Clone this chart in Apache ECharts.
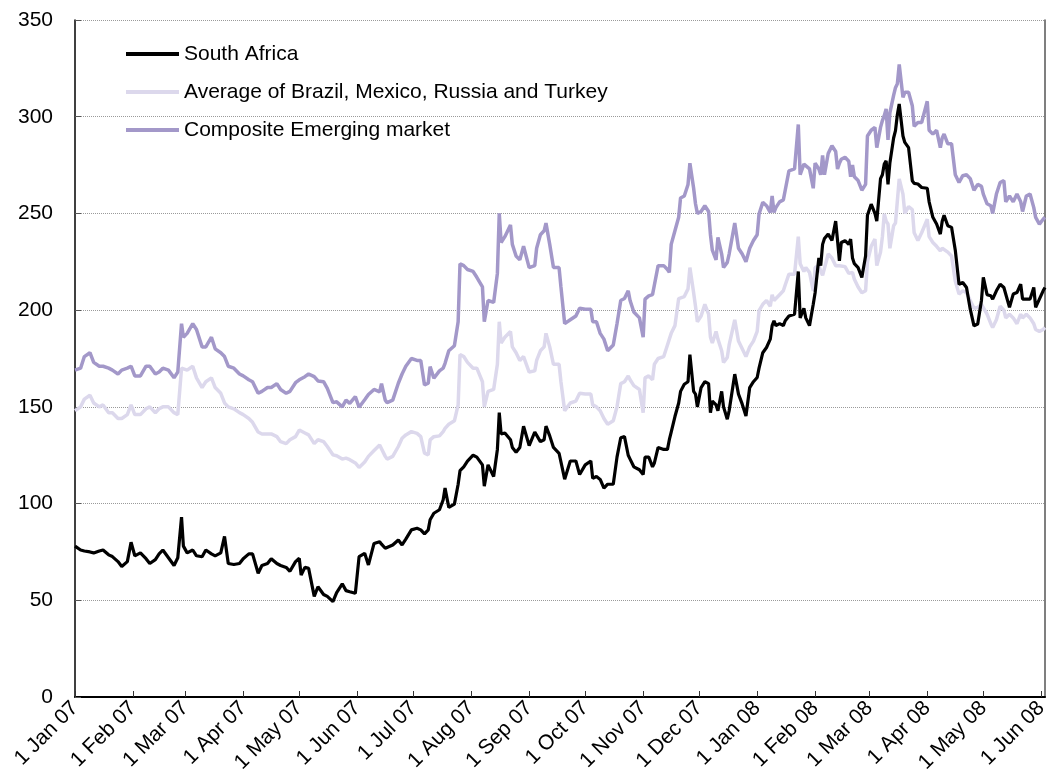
<!DOCTYPE html>
<html>
<head>
<meta charset="utf-8">
<title>South Africa vs emerging markets</title>
<script src="https://cdn.jsdelivr.net/npm/echarts@6/dist/echarts.min.js"></script>
<style>
  html, body { margin: 0; padding: 0; background: #fff; }
  #chart { width: 1050px; height: 774px; }
</style>
</head>
<body>
<div id="chart"></div>
<script>
// observation dates, shared by the three lines
var dates = [
  '2007-01-01','2007-01-04','2007-01-06','2007-01-09','2007-01-11','2007-01-14','2007-01-16','2007-01-19','2007-01-21','2007-01-24',
  '2007-01-26','2007-01-29','2007-01-31','2007-02-02','2007-02-05','2007-02-08','2007-02-10','2007-02-13','2007-02-15','2007-02-17',
  '2007-02-20','2007-02-23','2007-02-25','2007-02-27','2007-02-28','2007-03-02','2007-03-05','2007-03-07','2007-03-10','2007-03-12',
  '2007-03-15','2007-03-17','2007-03-20','2007-03-22','2007-03-24','2007-03-27','2007-03-30','2007-04-01','2007-04-04','2007-04-06',
  '2007-04-09','2007-04-11','2007-04-14','2007-04-16','2007-04-19','2007-04-21','2007-04-24','2007-04-26','2007-04-29','2007-05-01',
  '2007-05-02','2007-05-04','2007-05-06','2007-05-09','2007-05-11','2007-05-14','2007-05-16','2007-05-19','2007-05-21','2007-05-24',
  '2007-05-26','2007-05-28','2007-05-31','2007-06-02','2007-06-05','2007-06-07','2007-06-10','2007-06-13','2007-06-14','2007-06-16',
  '2007-06-17','2007-06-20','2007-06-23','2007-06-25','2007-06-27','2007-06-30','2007-07-03','2007-07-05','2007-07-07','2007-07-09',
  '2007-07-10','2007-07-12','2007-07-15','2007-07-17','2007-07-18','2007-07-20','2007-07-23','2007-07-25','2007-07-26','2007-07-28',
  '2007-07-30','2007-08-02','2007-08-04','2007-08-07','2007-08-08','2007-08-10','2007-08-13','2007-08-15','2007-08-16','2007-08-17',
  '2007-08-19','2007-08-22','2007-08-23','2007-08-25','2007-08-27','2007-08-29','2007-09-01','2007-09-04','2007-09-05','2007-09-07',
  '2007-09-09','2007-09-10','2007-09-12','2007-09-14','2007-09-17','2007-09-18','2007-09-20','2007-09-23','2007-09-26','2007-09-28',
  '2007-10-01','2007-10-04','2007-10-05','2007-10-07','2007-10-09','2007-10-11','2007-10-13','2007-10-16','2007-10-18','2007-10-20',
  '2007-10-22','2007-10-24','2007-10-25','2007-10-27','2007-10-30','2007-11-01','2007-11-02','2007-11-04','2007-11-06','2007-11-07',
  '2007-11-09','2007-11-12','2007-11-14','2007-11-15','2007-11-16','2007-11-18','2007-11-20','2007-11-21','2007-11-23','2007-11-25',
  '2007-11-26','2007-11-28','2007-11-29','2007-11-30','2007-12-02','2007-12-04','2007-12-06','2007-12-07','2007-12-08','2007-12-10',
  '2007-12-11','2007-12-13','2007-12-14','2007-12-16','2007-12-17','2007-12-20','2007-12-22','2007-12-24','2007-12-26','2007-12-28',
  '2007-12-30','2008-01-01','2008-01-02','2008-01-04','2008-01-06','2008-01-08','2008-01-09','2008-01-10','2008-01-11','2008-01-13',
  '2008-01-15','2008-01-16','2008-01-18','2008-01-19','2008-01-21','2008-01-23','2008-01-24','2008-01-26','2008-01-27','2008-01-29',
  '2008-01-31','2008-02-01','2008-02-03','2008-02-04','2008-02-05','2008-02-06','2008-02-08','2008-02-09','2008-02-10','2008-02-12',
  '2008-02-13','2008-02-14','2008-02-15','2008-02-17','2008-02-19','2008-02-20','2008-02-21','2008-02-22','2008-02-24','2008-02-26',
  '2008-02-28','2008-02-29','2008-03-02','2008-03-04','2008-03-05','2008-03-07','2008-03-08','2008-03-09','2008-03-10','2008-03-11',
  '2008-03-12','2008-03-14','2008-03-15','2008-03-16','2008-03-17','2008-03-19','2008-03-20','2008-03-22','2008-03-24','2008-03-25',
  '2008-03-27','2008-03-29','2008-04-01','2008-04-02','2008-04-04','2008-04-06','2008-04-08','2008-04-09','2008-04-10','2008-04-12',
  '2008-04-14','2008-04-16','2008-04-18','2008-04-20','2008-04-22','2008-04-24','2008-04-26','2008-04-28','2008-04-30','2008-05-01',
  '2008-05-03','2008-05-05','2008-05-06','2008-05-08','2008-05-10','2008-05-12','2008-05-13','2008-05-15','2008-05-17','2008-05-19',
  '2008-05-21','2008-05-22','2008-05-24','2008-05-26','2008-05-28','2008-05-29','2008-05-31','2008-06-02','2008-06-03'
];

var southAfrica = [
  78, 76, 75.5, 75, 74.5, 75.5, 76, 73.5, 72.6, 70,
  67.5, 70, 80, 73, 74.5, 71.5, 69, 71, 74, 76,
  72, 68, 72, 93, 78, 74.5, 76, 73, 72.5, 76,
  74, 73, 74.5, 83, 69, 68.5, 69, 71.5, 74, 74,
  64, 68, 69, 71.5, 69, 68, 67, 65, 70, 71.7,
  63, 67, 66.5, 52, 57, 53, 52, 49.3, 54, 58.5,
  55, 54.4, 53.6, 72.6, 74.3, 68.3, 79.4, 80.3, 79, 76.9,
  77.7, 78.6, 81.2, 78.6, 81.6, 86.4, 87.2, 86.4, 84.3, 86.4,
  91.6, 95, 96.8, 102, 108, 98, 99.7, 110, 117, 119,
  122, 125, 124, 120, 109, 120, 114, 128, 147, 136,
  136.5, 133, 129, 126.5, 129, 140, 130, 137, 137.6, 132,
  133, 140, 135, 129, 126, 127, 112.6, 122, 122, 115,
  120, 122, 113, 114, 112.5, 108, 110, 110, 124, 134,
  134.6, 125, 123, 119, 117.5, 115, 124, 124, 119, 121,
  129, 128, 128, 133, 137, 145, 152, 158, 161.7, 163,
  177, 158, 156.6, 150, 160, 163, 162, 147, 153, 151,
  148, 158, 150, 143.6, 148, 166.9, 156.6, 151.4, 145.3, 160,
  163, 165.2, 170, 178, 180.7, 185, 192, 194.5, 192, 193,
  192, 194.5, 197, 197.9, 197.9, 220, 196, 201, 196, 192,
  203, 209, 227, 223, 234, 237, 239.3, 240, 236, 246,
  236, 225.5, 235, 235.9, 234, 236.7, 227, 224, 222, 216.9,
  228, 249, 254.8, 250, 246, 268, 270, 275.5, 277.2, 265,
  276, 289, 292.8, 301, 306.6, 290, 286.7, 284, 266.9, 265.5,
  265.2, 263.4, 263, 256, 248, 244.5, 239.3, 246, 249, 243.6,
  242.8, 231, 213.4, 214.3, 211.7, 200.5, 191.9, 192.8, 205, 216.9,
  208, 207.4, 205.7, 210, 213.4, 211.7, 210.9, 201.4, 208.3, 209.1,
  213.4, 205.7, 205.7, 205.7, 211.7, 201.4, 205.7, 210, 211.7
];

var avgBMRT = [
  148, 150, 154, 156, 152, 150, 151, 147, 147, 144,
  144, 146, 151, 146, 146, 149, 150, 147, 149, 150,
  150, 147, 146, 170, 170, 169, 171, 165, 160, 163,
  165, 160, 157, 152, 150, 149, 147, 146, 144, 142,
  137, 136, 136, 136, 134.6, 132, 131, 133, 134.6, 138,
  137, 136.5, 135.5, 131, 133, 132, 129.5, 125.2, 124.7, 123,
  123.5, 122.7, 121, 118.7, 121.5, 124.4, 127.4, 130.3, 131, 124.4,
  123, 124.4, 129.5, 133.8, 135.5, 137.2, 136.3, 134.6, 126.1, 125.2,
  132.9, 134.6, 135, 137.2, 138.9, 141, 142.8, 151, 177, 176,
  173, 170, 170, 163, 150, 158, 159, 172, 194, 183,
  186, 189, 181, 178, 174, 176, 168, 168.6, 174, 179,
  181, 188, 181, 172, 172, 163, 148, 152, 153, 157,
  156.6, 156.6, 151, 150, 148, 144, 141, 142.8, 150, 162,
  163, 166, 164, 161, 159, 147, 165, 166, 164, 172,
  175, 176, 182, 185, 188, 192, 206, 206.6, 207, 211,
  222, 209, 202, 194, 197, 203, 198, 186, 183, 189,
  185, 179, 173, 175.5, 182, 195, 184, 180, 176, 181,
  184, 189, 199.7, 203, 205, 202, 208, 205, 205, 208,
  210, 213, 218.6, 218.6, 218.6, 238, 224, 220, 222, 219.5,
  210, 222, 223, 220, 218, 217, 229, 228, 227, 223,
  223, 223, 223, 222.5, 219, 218, 219.5, 216, 212, 209,
  210, 225, 233, 236.7, 223, 230, 238, 249.7, 246, 244.5,
  232, 243.6, 245, 246, 267.8, 260, 250, 253.5, 252, 240,
  236, 240, 247, 238, 235, 233, 230.7, 232, 232, 230,
  228, 215, 208.3, 210, 209, 205, 201, 201.4, 203, 202,
  198, 193, 191, 195, 202, 200, 196, 197.9, 196, 193,
  197.9, 196, 197.9, 196, 193, 190, 189, 190, 191
];

var composite = [
  169, 170, 176, 178, 173, 171, 171, 170, 169, 167,
  169, 170, 171, 166, 166, 171, 171, 167, 168, 170,
  169, 165, 168, 193, 186, 188, 193, 190, 181, 181,
  186, 180, 178, 176, 171, 170, 167, 166, 164, 163,
  157, 158, 160, 160, 162, 159, 157, 158, 162.5, 164,
  163.5, 165.6, 167, 165.6, 163.4, 163, 159.6, 152.2, 152.6, 150,
  153.5, 151.8, 155.3, 149.8, 153.7, 156.4, 159, 157.8, 162, 153.5,
  152.2, 153.5, 162.2, 167, 171, 175, 174, 174, 161.3, 162.2,
  170.8, 164.8, 168.6, 170, 172.5, 179, 181.6, 194, 224, 223,
  221, 220, 217, 212, 194, 205, 204, 219, 250, 235,
  238, 244, 234, 228, 226, 233, 222, 223, 232, 239,
  241, 245, 234, 222, 222, 212, 193, 195, 197, 201,
  200.5, 200.5, 194, 194, 188, 185, 179, 182, 193, 205,
  206, 210, 205, 199, 196, 186, 205.7, 207.4, 208, 213,
  223, 223, 221, 219.5, 234, 241, 248, 258, 259, 265,
  276, 263, 255, 250, 251, 254, 251, 239, 231, 226,
  237.6, 229, 222, 224.7, 229, 245, 232, 229, 225, 232,
  236, 239, 249.7, 255.7, 254, 250.5, 259, 250.5, 253, 256,
  257, 262, 272, 272, 273, 296, 270, 275.5, 276, 273,
  263, 276, 273, 270, 280, 270, 281, 282, 285, 282,
  273, 276, 278, 279, 277, 269, 275, 269, 267, 262,
  265, 290, 293, 294.5, 284, 294.5, 298, 300.5, 304, 288,
  302, 311, 315, 317, 327, 310, 312.6, 312.6, 305.7, 295,
  297, 297, 308, 293, 291, 293, 284, 289, 291, 286,
  286, 270, 266, 269.5, 270, 268, 262, 265, 264, 260,
  255, 254, 250, 260, 266, 267, 256, 259, 256, 260,
  256, 251, 259, 260, 253, 248, 244.5, 247, 248
];

// x axis: a tick and a label on the first day of each month
var monthTicks = [
  '2007-01-01','2007-02-01','2007-03-01','2007-04-01','2007-05-01','2007-06-01',
  '2007-07-01','2007-08-01','2007-09-01','2007-10-01','2007-11-01','2007-12-01',
  '2008-01-01','2008-02-01','2008-03-01','2008-04-01','2008-05-01','2008-06-01'
];
var monthNames = ['Jan', 'Feb', 'Mar', 'Apr', 'May', 'Jun', 'Jul', 'Aug', 'Sep', 'Oct', 'Nov', 'Dec'];

var seriesNames = ['South Africa', 'Average of Brazil, Mexico, Russia and Turkey', 'Composite Emerging market'];

var font = 'Liberation Sans, Arial, Helvetica, sans-serif';

// dates -> ms timestamps (UTC), plotted on a numeric x axis
function toTime (s) {
  var p = s.split('-');
  return Date.UTC(+p[0], +p[1] - 1, +p[2]);
}

function pairs (values) {
  return dates.map(function (d, i) { return [toTime(d), values[i]]; });
}

var tickTimes = monthTicks.map(toTime);

var chart = echarts.init(document.getElementById('chart'), null, { renderer: 'canvas' });

chart.setOption({
  animation: false,
  backgroundColor: '#ffffff',
  grid: {
    left: 75,
    right: 5,
    top: 20,
    bottom: 77,
    containLabel: false,
    outerBoundsMode: 'none'
  },
  legend: {
    data: seriesNames,
    orient: 'vertical',
    left: 121,
    top: 37,
    icon: 'rect',
    itemWidth: 53,
    itemHeight: 4,
    itemGap: 14,
    textStyle: {
      fontFamily: font,
      fontSize: 21,
      lineHeight: 24,
      color: '#000'
    }
  },
  xAxis: {
    type: 'value',
    min: toTime('2007-01-01'),
    max: toTime('2008-06-03'),
    axisLine: { onZero: false, lineStyle: { color: '#000', width: 2 } },
    axisTick: {
      inside: true,
      length: 6,
      customValues: tickTimes,
      lineStyle: { color: '#333', width: 1 }
    },
    axisLabel: {
      customValues: tickTimes,
      rotate: 45,
      margin: 8,
      hideOverlap: false,
      showMinLabel: true,
      showMaxLabel: true,
      fontFamily: font,
      fontSize: 21,
      color: '#000',
      formatter: function (value) {
        var d = new Date(value);
        return d.getUTCDate() + ' ' + monthNames[d.getUTCMonth()] + ' ' + String(d.getUTCFullYear()).slice(2);
      }
    },
    splitLine: { show: false }
  },
  yAxis: [
    {
      type: 'value',
      min: 0,
      max: 350,
      interval: 50,
      axisLine: { show: true, lineStyle: { color: '#000', width: 1.5 } },
      axisTick: { show: true, inside: true, length: 6, lineStyle: { color: '#555' } },
      axisLabel: { margin: 22, fontFamily: font, fontSize: 21, color: '#000' },
      splitLine: { show: true, lineStyle: { color: '#9a9a9a', type: 'dotted', width: 1 } }
    },
    {
      // right-hand frame line only
      type: 'value',
      position: 'right',
      min: 0,
      max: 350,
      interval: 50,
      axisLine: { show: true, lineStyle: { color: '#555', width: 1.5 } },
      axisTick: { show: false },
      axisLabel: { show: false },
      splitLine: { show: false }
    }
  ],
  series: [
    {
      name: seriesNames[1],
      type: 'line',
      data: pairs(avgBMRT),
      showSymbol: false,
      symbol: 'none',
      lineStyle: { color: '#dcd8ec', width: 3.5 },
      itemStyle: { color: '#dcd8ec' },
      z: 2
    },
    {
      name: seriesNames[2],
      type: 'line',
      data: pairs(composite),
      showSymbol: false,
      symbol: 'none',
      lineStyle: { color: '#a398c9', width: 3.5 },
      itemStyle: { color: '#a398c9' },
      z: 3
    },
    {
      name: seriesNames[0],
      type: 'line',
      data: pairs(southAfrica),
      showSymbol: false,
      symbol: 'none',
      lineStyle: { color: '#000000', width: 3.2 },
      itemStyle: { color: '#000000' },
      z: 4
    }
  ]
});
</script>
</body>
</html>
